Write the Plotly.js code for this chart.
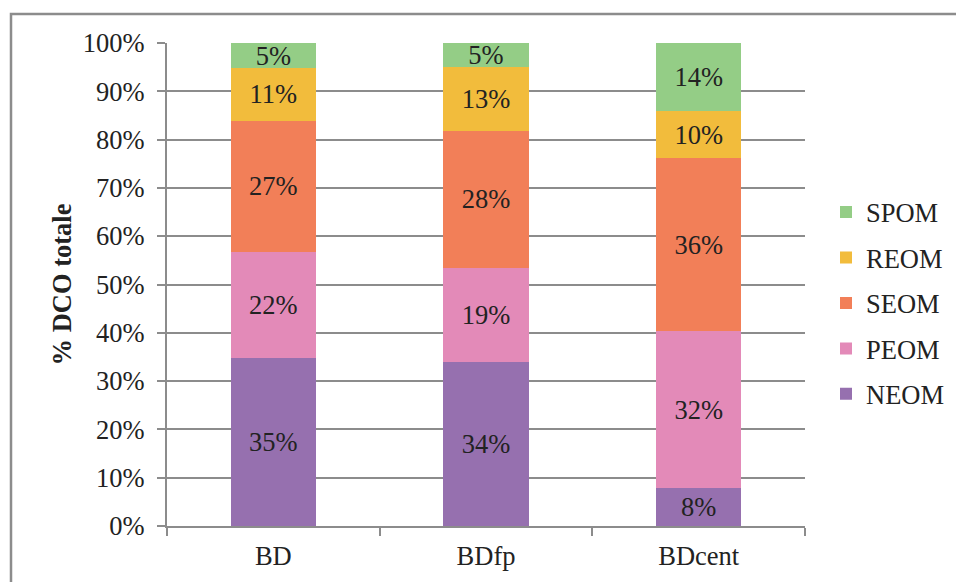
<!DOCTYPE html>
<html>
<head>
<meta charset="utf-8">
<script src="https://cdn.plot.ly/plotly-3.0.1.min.js"></script>
<style>
html,body{margin:0;padding:0;background:#fff;}
#chart{width:956px;height:582px;}
</style>
</head>
<body>
<div id="chart"></div>
<script>
const categories = ['BD', 'BDfp', 'BDcent'];
const NEOM = [34.8, 34.0, 7.9];
const PEOM = [21.9, 19.4, 32.4];
const SEOM = [27.2, 28.4, 35.9];
const REOM = [10.9, 13.2, 9.7];
const SPOM = [5.2, 5.0, 14.1];
const seriesNames = ['NEOM', 'PEOM', 'SEOM', 'REOM', 'SPOM'];
const seriesValues = [NEOM, PEOM, SEOM, REOM, SPOM];
const colors = ['#9670AF', '#E38AB8', '#F27F58', '#F2BC3C', '#94CD86'];
const yTickVals = [0, 10, 20, 30, 40, 50, 60, 70, 80, 90, 100];
const yTickText = ['0%', '10%', '20%', '30%', '40%', '50%', '60%', '70%', '80%', '90%', '100%'];

const FONT = 'Liberation Serif';
const FS = 26.5;
const traces = seriesNames.map((name, i) => ({
  type: 'bar',
  name: name,
  x: categories,
  y: seriesValues[i],
  text: seriesValues[i].map(v => Math.round(v) + '%'),
  textposition: 'inside',
  insidetextanchor: 'middle',
  constraintext: 'none',
  textfont: {family: FONT, size: FS, color: '#222'},
  marker: {color: colors[i], line: {width: 0}},
  legendgroup: name,
  legendrank: seriesNames.length - i,
  hoverinfo: 'skip'
}));

const W = 956, H = 582;
const L = 167, R = 151, T = 43, B = 56;
const pw = W - L - R, ph = H - T - B;

const layout = {
  width: W, height: H,
  margin: {l: L, r: R, t: T, b: B, pad: 0, autoexpand: false},
  barmode: 'stack',
  bargap: 0.6,
  paper_bgcolor: '#fff',
  plot_bgcolor: '#fff',
  font: {family: FONT, size: FS, color: '#222'},
  showlegend: true,
  legend: {
    x: (826 - L) / pw, xanchor: 'left',
    y: 0.461, yanchor: 'middle',
    traceorder: 'grouped',
    tracegroupgap: 8,
    font: {family: FONT, size: FS, color: '#222'},
    bgcolor: 'rgba(0,0,0,0)'
  },
  uniformtext: {minsize: FS, mode: 'show'},
  xaxis: {
    type: 'category',
    showline: true, linecolor: '#8c8c8c', linewidth: 2,
    ticks: 'outside', tickson: 'boundaries', ticklen: 8, tickwidth: 2, tickcolor: '#8c8c8c',
    ticklabelstandoff: 5,
    showgrid: false,
    tickfont: {family: FONT, size: FS, color: '#222'},
    fixedrange: true
  },
  yaxis: {
    range: [0, 100],
    tickvals: yTickVals, ticktext: yTickText,
    showline: true, linecolor: '#8c8c8c', linewidth: 2,
    ticks: 'outside', ticklen: 8, tickwidth: 2, tickcolor: '#8c8c8c',
    ticklabelstandoff: 7,
    showgrid: true, gridcolor: '#8c8c8c', gridwidth: 2,
    zeroline: false,
    tickfont: {family: FONT, size: FS, color: '#222'},
    title: {text: '<b>% DCO totale</b>', font: {family: FONT, size: FS, color: '#222'}, standoff: 4},
    fixedrange: true
  },
  shapes: [{
    type: 'rect', xref: 'paper', yref: 'paper',
    x0: (11 - L) / pw, x1: (W + 20 - L) / pw,
    y0: -(H + 20 - T - ph) / ph, y1: 1 + (T - 14) / ph,
    line: {color: '#8c8c8c', width: 2.5},
    fillcolor: 'rgba(0,0,0,0)',
    layer: 'below'
  }]
};

Plotly.newPlot('chart', traces, layout, {displayModeBar: false, staticPlot: true});
</script>
</body>
</html>
